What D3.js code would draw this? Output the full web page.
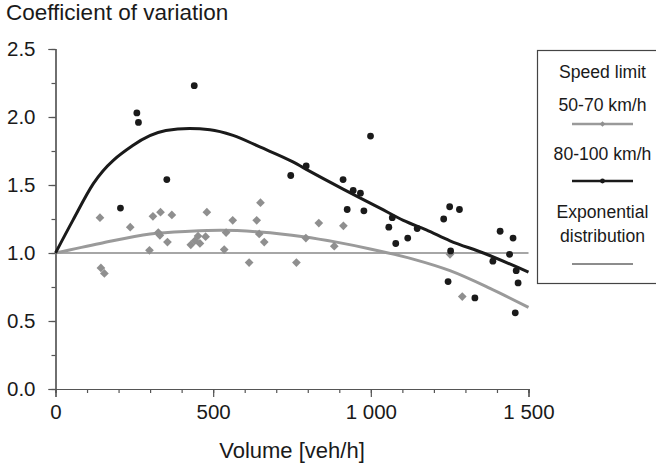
<!DOCTYPE html>
<html>
<head>
<meta charset="utf-8">
<script src="https://cdn.jsdelivr.net/npm/d3@7"></script>
<style>
  body { margin: 0; background: #fff; }
  svg text { fill: #1a1a1a; }
</style>
</head>
<body>
<div id="chart"></div>
<script>
// points, speed limit 50-70 km/h  [volume, CV]
var lowSpeedPoints = [
  [141, 1.26], [144, 0.89], [155, 0.85], [237, 1.19], [298, 1.02], [309, 1.27],
  [326, 1.15], [331, 1.13], [333, 1.30], [355, 1.08], [369, 1.28], [429, 1.06],
  [442, 1.09], [452, 1.125], [458, 1.07], [476, 1.12], [480, 1.30], [535, 1.025],
  [541, 1.15], [562, 1.24], [614, 0.93], [638, 1.24], [646, 1.14], [650, 1.37],
  [662, 1.08], [764, 0.93], [794, 1.11], [835, 1.22], [884, 1.05], [913, 1.20],
  [1251, 0.99], [1290, 0.68]
];

// points, speed limit 80-100 km/h
var highSpeedPoints = [
  [206, 1.33], [258, 2.03], [263, 1.96], [353, 1.54], [440, 2.23], [746, 1.57],
  [795, 1.64], [912, 1.54], [925, 1.32], [944, 1.46], [967, 1.44], [978, 1.31],
  [999, 1.86], [1057, 1.19], [1068, 1.26], [1079, 1.07], [1117, 1.11], [1147, 1.18],
  [1231, 1.25], [1245, 0.79], [1250, 1.34], [1253, 1.015], [1281, 1.32], [1330, 0.67],
  [1387, 0.94], [1410, 1.16], [1440, 0.99], [1451, 1.11], [1458, 0.56], [1461, 0.87],
  [1467, 0.78]
];

// fitted curves
var lowSpeedCurve = [
  [0, 1.0], [141, 1.07], [300, 1.14], [426, 1.16], [522, 1.167], [648, 1.155],
  [786, 1.12], [891, 1.08], [998, 1.03], [1134, 0.955], [1251, 0.87], [1378, 0.74],
  [1500, 0.60]
];
var highSpeedCurve = [
  [0, 1.0], [55, 1.24], [120, 1.51], [245, 1.79], [350, 1.90], [425, 1.915],
  [490, 1.907], [563, 1.865], [648, 1.78], [753, 1.67], [807, 1.60], [912, 1.47],
  [1029, 1.33], [1103, 1.24], [1176, 1.17], [1251, 1.09], [1357, 1.0], [1500, 0.86]
];
var exponentialLine = [[0, 1.0], [1500, 1.0]];

var xMajorTicks = [0, 500, 1000, 1500];
var xMinorTicks = d3.range(0, 1501, 100);
var yMajorTicks = [0, 0.5, 1.0, 1.5, 2.0, 2.5];
var yMinorTicks = d3.range(0, 2.51, 0.25);

var legendLabels = ["Speed limit", "50-70 km/h", "80-100 km/h", "Exponential", "distribution"];

var svgWidth = 656;
var svgHeight = 464;

var margin = { top: 49, right: 127.5, bottom: 75, left: 55.5 };
var chartWidth = svgWidth - margin.left - margin.right;
var chartHeight = svgHeight - margin.top - margin.bottom;

var font = "'Liberation Sans', Arial, sans-serif";
var grayMark = "#8f8f8f";
var grayLine = "#9a9a9a";
var darkMark = "#1a1a1a";

var svg = d3.select("#chart")
  .append("svg")
  .attr("width", svgWidth)
  .attr("height", svgHeight);

var chartGroup = svg.append("g")
  .attr("transform", `translate(${margin.left}, ${margin.top})`);

var x = d3.scaleLinear().domain([0, 1500]).range([0, chartWidth]);
var y = d3.scaleLinear().domain([0, 2.5]).range([chartHeight, 0]);

var spaceThousands = d => d >= 1000 ? d3.format(",")(d).replace(",", " ") : String(d);

// axes: minor ticks first, then labelled ones
chartGroup.append("g")
  .attr("class", "axis")
  .attr("transform", `translate(0, ${chartHeight})`)
  .call(d3.axisBottom(x).tickValues(xMinorTicks).tickSize(4).tickFormat(""));
chartGroup.append("g")
  .attr("class", "axis")
  .attr("transform", `translate(0, ${chartHeight})`)
  .call(d3.axisBottom(x).tickValues(xMajorTicks).tickSize(8).tickPadding(7).tickFormat(spaceThousands));

chartGroup.append("g")
  .attr("class", "axis")
  .call(d3.axisLeft(y).tickValues(yMinorTicks).tickSize(4).tickFormat(""));
chartGroup.append("g")
  .attr("class", "axis")
  .call(d3.axisLeft(y).tickValues(yMajorTicks).tickSize(7).tickPadding(13).tickFormat(d3.format(".1f")));

chartGroup.selectAll(".axis").attr("font-family", font).attr("font-size", 20.5);
chartGroup.selectAll(".axis path").attr("stroke", "#555").attr("stroke-width", 1.2);
chartGroup.selectAll(".axis line").attr("stroke", "#555").attr("stroke-width", 1.2);
chartGroup.selectAll(".axis text").attr("fill", "#1a1a1a");

var line = d3.line().x(d => x(d[0])).y(d => y(d[1]));
var curve = d3.line().x(d => x(d[0])).y(d => y(d[1])).curve(d3.curveMonotoneX);

chartGroup.append("path")
  .datum(exponentialLine)
  .attr("d", line)
  .attr("fill", "none")
  .attr("stroke", "#888")
  .attr("stroke-width", 1.6);

chartGroup.append("path")
  .datum(lowSpeedCurve)
  .attr("d", curve)
  .attr("fill", "none")
  .attr("stroke", grayLine)
  .attr("stroke-width", 3);

chartGroup.append("path")
  .datum(highSpeedCurve)
  .attr("d", curve)
  .attr("fill", "none")
  .attr("stroke", darkMark)
  .attr("stroke-width", 3);

var diamond = d3.symbol(d3.symbolSquare, 38);

chartGroup.selectAll(".low").data(lowSpeedPoints).enter()
  .append("path")
  .attr("class", "low")
  .attr("d", diamond)
  .attr("transform", d => `translate(${x(d[0])}, ${y(d[1])}) rotate(45)`)
  .attr("fill", grayMark);

chartGroup.selectAll(".high").data(highSpeedPoints).enter()
  .append("circle")
  .attr("class", "high")
  .attr("cx", d => x(d[0]))
  .attr("cy", d => y(d[1]))
  .attr("r", 3.4)
  .attr("fill", darkMark);

// titles
svg.append("text")
  .attr("x", 6)
  .attr("y", 20)
  .attr("font-family", font)
  .attr("font-size", 22.5)
  .text("Coefficient of variation");

svg.append("text")
  .attr("x", margin.left + chartWidth / 2)
  .attr("y", 458)
  .attr("text-anchor", "middle")
  .attr("font-family", font)
  .attr("font-size", 22)
  .text("Volume [veh/h]");

// legend box
var legend = svg.append("g");
legend.append("rect")
  .attr("x", 537.5)
  .attr("y", 50.5)
  .attr("width", 130)
  .attr("height", 233)
  .attr("fill", "#fff")
  .attr("stroke", "#444")
  .attr("stroke-width", 1.2);

var legendX = 602.5;
var legendBaselines = [78, 111, 160, 218, 242];
legend.selectAll(".ltext").data(legendLabels).enter()
  .append("text")
  .attr("class", "ltext")
  .attr("x", legendX)
  .attr("y", (d, i) => legendBaselines[i])
  .attr("text-anchor", "middle")
  .attr("font-family", font)
  .attr("font-size", 17.6)
  .text(d => d);

legend.append("line")
  .attr("x1", 572).attr("x2", 633).attr("y1", 124).attr("y2", 124)
  .attr("stroke", grayLine).attr("stroke-width", 2.5);
legend.append("path")
  .attr("d", d3.symbol(d3.symbolSquare, 16))
  .attr("transform", `translate(${legendX}, 124) rotate(45)`)
  .attr("fill", grayMark);

legend.append("line")
  .attr("x1", 572).attr("x2", 633).attr("y1", 181).attr("y2", 181)
  .attr("stroke", darkMark).attr("stroke-width", 2.5);
legend.append("circle")
  .attr("cx", legendX).attr("cy", 181).attr("r", 2.4)
  .attr("fill", darkMark);

legend.append("line")
  .attr("x1", 572).attr("x2", 633).attr("y1", 264).attr("y2", 264)
  .attr("stroke", darkMark).attr("stroke-width", 1);
</script>
</body>
</html>
